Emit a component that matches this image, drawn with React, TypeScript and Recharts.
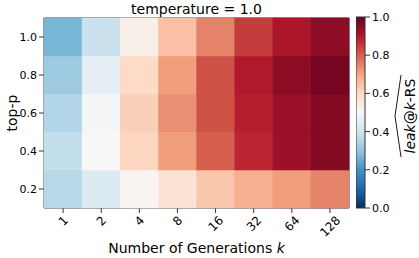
import React from 'react';
import { ScatterChart, Scatter, XAxis, YAxis, ReferenceArea, BarChart, Bar, Label } from 'recharts';

// top-p rows (bottom to top) x number of generations k
const K_LABELS = ['1', '2', '4', '8', '16', '32', '64', '128'];
const TOP_P = [0.2, 0.4, 0.6, 0.8, 1.0];
const LEAK_P02 = [0.36, 0.43, 0.51, 0.57, 0.64, 0.68, 0.71, 0.75];
const LEAK_P04 = [0.38, 0.5, 0.61, 0.71, 0.8, 0.88, 0.93, 0.96];
const LEAK_P06 = [0.35, 0.49, 0.62, 0.73, 0.82, 0.89, 0.93, 0.96];
const LEAK_P08 = [0.32, 0.45, 0.6, 0.71, 0.82, 0.9, 0.95, 0.98];
const LEAK_P10 = [0.27, 0.39, 0.53, 0.65, 0.75, 0.85, 0.91, 0.95];
const CBAR_TICKS = [0, 0.2, 0.4, 0.6, 0.8, 1.0];

const ROWS = [LEAK_P02, LEAK_P04, LEAK_P06, LEAK_P08, LEAK_P10];
const cells = TOP_P.flatMap((p, r) => K_LABELS.map((_, i) => ({ xi: i, p, v: ROWS[r][i] })));

const FONT = '"DejaVu Sans", sans-serif';
const W = 419;
const H = 258;
const MARGIN = { top: 18, right: 70, bottom: 0, left: 0 };
const Y_W = 44;
const X_H = 50;
const CELL_W = (W - MARGIN.right - MARGIN.left - Y_W) / K_LABELS.length;
const CELL_H = (H - MARGIN.top - X_H) / TOP_P.length;
const XTICK_FS = 12;

// matplotlib RdBu_r
const RDBU_R = ['#053061', '#2166ac', '#4393c3', '#92c5de', '#d1e5f0', '#f7f7f7', '#fddbc7', '#f4a582', '#d6604d', '#b2182b', '#67001f'];

function hexToRgb(h: string) {
  const n = parseInt(h.slice(1), 16);
  return [(n >> 16) & 255, (n >> 8) & 255, n & 255];
}

function cmap(v: number) {
  const t = Math.min(1, Math.max(0, v)) * (RDBU_R.length - 1);
  const i = Math.min(Math.floor(t), RDBU_R.length - 2);
  const f = t - i;
  const a = hexToRgb(RDBU_R[i]);
  const b = hexToRgb(RDBU_R[i + 1]);
  const c = a.map((x, j) => Math.round(x + (b[j] - x) * f));
  return `rgb(${c[0]},${c[1]},${c[2]})`;
}

const renderCell = (props: any) => {
  const { cx, cy, payload } = props;
  const fill = cmap(payload.v);
  return (
    <rect
      x={cx - CELL_W / 2}
      y={cy - CELL_H / 2}
      width={CELL_W}
      height={CELL_H}
      fill={fill}
      stroke={fill}
      strokeWidth={0.5}
    />
  );
};

// rotated 45deg, box centred under the tick like matplotlib ha='center'
const XTick = (props: any) => {
  const { x, y, payload } = props;
  const label = K_LABELS[payload.value];
  const len = label.length * 0.636 * XTICK_FS;
  const ax = x + 0.26 * XTICK_FS;
  const ay = y + 0.354 * len + 0.516 * XTICK_FS;
  return (
    <text
      x={ax}
      y={ay}
      transform={`rotate(-45 ${ax} ${ay})`}
      textAnchor="middle"
      fontSize={XTICK_FS}
      fontFamily={FONT}
      fill="#000"
    >
      {label}
    </text>
  );
};

const XLabel = (props: any) => {
  const { viewBox } = props;
  const cx = viewBox.x + viewBox.width / 2;
  return (
    <text x={cx} y={253} textAnchor="middle" fontSize={14} fontFamily={FONT} fill="#000">
      Number of Generations <tspan fontStyle="italic">k</tspan>
    </text>
  );
};

const YLabel = (props: any) => {
  const { viewBox } = props;
  const cy = viewBox.y + viewBox.height / 2;
  return (
    <text x={17} y={cy} transform={`rotate(-90 17 ${cy})`} textAnchor="middle" fontSize={14} fontFamily={FONT} fill="#000">
      top-p
    </text>
  );
};

// colorbar label with a wide hat; coordinates are relative to the colorbar chart
const CbarLabel = () => {
  const cy = 116;
  const bx = 59;
  const hx = 39;
  return (
    <g>
      <text x={bx} y={cy} transform={`rotate(-90 ${bx} ${cy})`} textAnchor="middle" fontSize={14} fontFamily={FONT} fill="#000">
        <tspan fontStyle="italic">leak</tspan>@<tspan fontStyle="italic">k</tspan>-RS
      </text>
      <path d={`M ${hx + 6} ${cy + 41} L ${hx} ${cy} L ${hx + 6} ${cy - 41}`} fill="none" stroke="#000" strokeWidth={0.9} />
    </g>
  );
};

const gradStops = Array.from({ length: 21 }, (_, i) => i / 20);

export default function App() {
  return (
    <div style={{ position: 'absolute', left: 0, top: 0, width: W, height: H, background: '#fff' }}>
      <div style={{ position: 'absolute', left: 0, top: 0 }}>
        <ScatterChart width={W} height={H} margin={MARGIN}>
          <XAxis
            type="number"
            dataKey="xi"
            domain={[-0.5, K_LABELS.length - 0.5]}
            ticks={K_LABELS.map((_, i) => i)}
            interval={0}
            height={X_H}
            axisLine={false}
            tickLine={{ stroke: '#333' }}
            tickSize={5}
            tick={<XTick />}
          >
            <Label content={<XLabel />} />
          </XAxis>
          <YAxis
            type="number"
            dataKey="p"
            domain={[0.1, 1.1]}
            ticks={TOP_P}
            interval={0}
            width={Y_W}
            axisLine={false}
            tickLine={{ stroke: '#333' }}
            tickSize={5}
            tickFormatter={(v: number) => v.toFixed(1)}
            tick={{ fontSize: 11, fontFamily: FONT, fill: '#000' }}
          >
            <Label content={<YLabel />} />
          </YAxis>
          <Scatter data={cells} dataKey="p" shape={renderCell} isAnimationActive={false} />
          <ReferenceArea
            x1={-0.5}
            x2={K_LABELS.length - 0.5}
            y1={0.1}
            y2={1.1}
            fill="none"
            fillOpacity={0}
            stroke="#333"
            strokeWidth={1}
            label={{ value: 'temperature = 1.0', position: 'top', offset: 4, fontSize: 14, fontFamily: FONT, fill: '#000' }}
          />
        </ScatterChart>
      </div>
      <div style={{ position: 'absolute', left: 356, top: 0 }}>
        <BarChart
          width={63}
          height={H}
          data={[{ name: 'cbar', v: 1 }]}
          margin={{ top: 17, right: 0, bottom: 50, left: 0 }}
          barCategoryGap={0}
        >
          <defs>
            <linearGradient id="cbGrad" x1="0" y1="1" x2="0" y2="0">
              {gradStops.map((s) => (
                <stop key={s} offset={s} stopColor={cmap(s)} />
              ))}
            </linearGradient>
          </defs>
          <XAxis dataKey="name" hide />
          <YAxis
            orientation="right"
            type="number"
            domain={[0, 1]}
            ticks={CBAR_TICKS}
            interval={0}
            width={54}
            axisLine={false}
            tickLine={{ stroke: '#333' }}
            tickSize={5}
            tickFormatter={(v: number) => v.toFixed(1)}
            tick={{ fontSize: 11, fontFamily: FONT, fill: '#000' }}
          >
            <Label content={<CbarLabel />} />
          </YAxis>
          <Bar dataKey="v" fill="url(#cbGrad)" stroke="#333" strokeWidth={1} isAnimationActive={false} />
        </BarChart>
      </div>
    </div>
  );
}
